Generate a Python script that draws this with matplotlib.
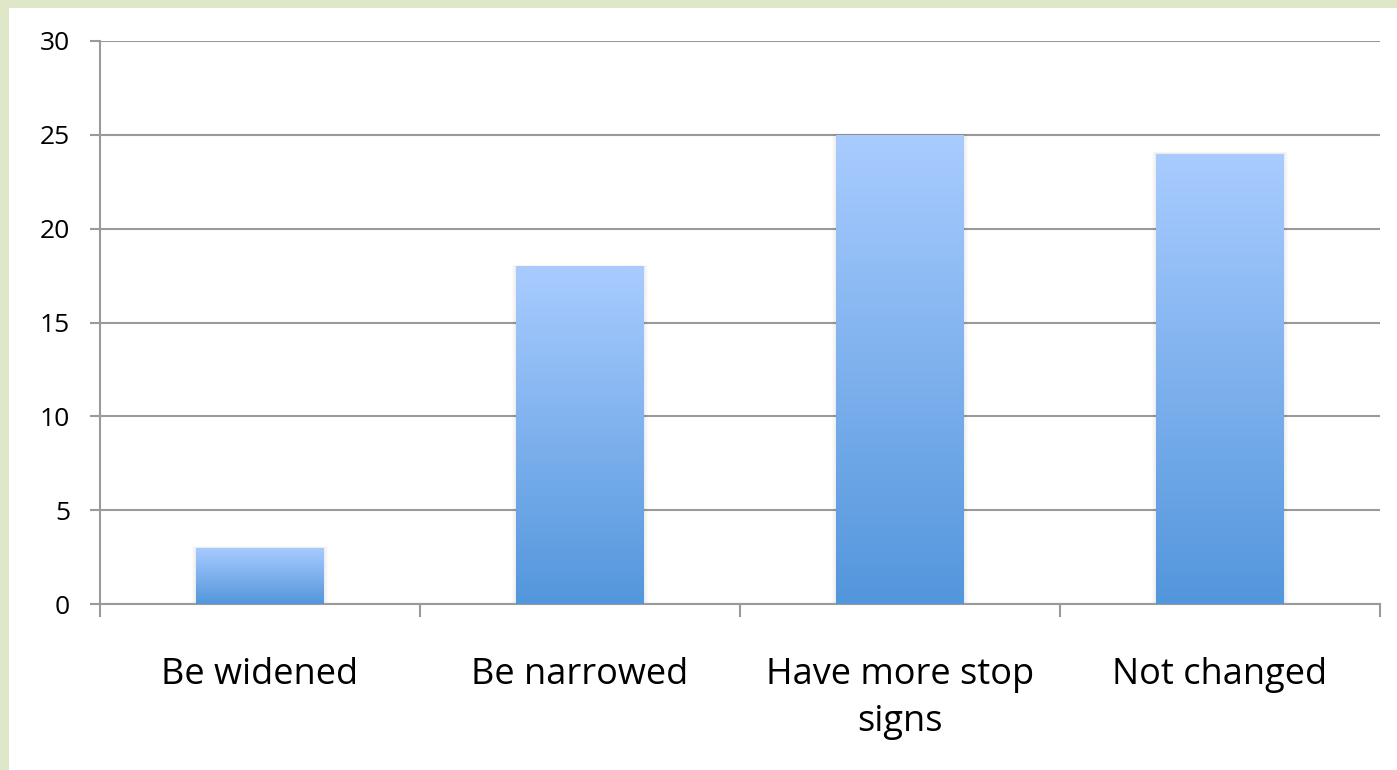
import matplotlib
matplotlib.use("Agg")
import matplotlib.pyplot as plt
import numpy as np
from matplotlib.colors import LinearSegmentedColormap

categories = ["Be widened", "Be narrowed", "Have more stop\nsigns", "Not changed"]
values = [3, 18, 25, 24]
y_ticks = [0, 5, 10, 15, 20, 25, 30]

W, H = 1397, 770
fig = plt.figure(figsize=(W / 100, H / 100), dpi=100)
fig.patch.set_facecolor("#dfe7c9")
# white inner panel
fig.patches.append(plt.Rectangle((9 / W, 0), 1, 1 - 8 / H, transform=fig.transFigure,
                                 facecolor="white", edgecolor="none", zorder=-5))

ax = fig.add_axes([100 / W, 1 - 604 / H, 1280 / W, (604 - 41) / H])
ax.set_zorder(2)
ax.set_facecolor("none")
x = np.arange(len(categories))
bars = ax.bar(x, values, width=0.4, facecolor="none", edgecolor="none", zorder=3)

cmap = LinearSegmentedColormap.from_list("g", ["#5396dc", "#a9ccff"])
grad = np.linspace(0, 1, 256).reshape(-1, 1)
for b in bars:
    x0, y0 = b.get_x(), b.get_y()
    w, h = b.get_width(), b.get_height()
    # soft shadow
    for i, a in enumerate([0.035, 0.025, 0.015]):
        d = 0.004 * (i + 1)
        ax.add_patch(plt.Rectangle((x0 - d, y0), w + 2 * d, h + 0.03 * (i + 1),
                                   facecolor="black", alpha=a, edgecolor="none", zorder=2))
    im = ax.imshow(grad, extent=(x0, x0 + w, y0, y0 + h), origin="lower", cmap=cmap,
                   aspect="auto", zorder=3, interpolation="bilinear")
    im.set_clip_path(b)

ax.set_xlim(-0.5, len(categories) - 0.5)
ax.set_ylim(0, 30)
ax.set_yticks(y_ticks)
ax.set_yticklabels([str(t) for t in y_ticks])
ax.yaxis.grid(True, color="#9a9a9a", linewidth=1.5, zorder=1)
ax.set_axisbelow(True)
ax.set_xticks(np.arange(len(categories) + 1) - 0.5, minor=False)
ax.set_xticklabels([""] * (len(categories) + 1))
ax.set_xticks(x, minor=True)
ax.set_xticklabels(categories, minor=True, fontsize=26, family="Open Sans", linespacing=1.4)
ax.tick_params(axis="x", which="minor", length=0, pad=38)
ax.tick_params(axis="x", which="major", length=9, width=1.5, color="#9a9a9a")
ax.tick_params(axis="y", length=7.5, width=1.5, color="#9a9a9a", pad=14, labelsize=19)
for lab in ax.get_yticklabels():
    lab.set_family("Open Sans")
for s in ["top", "right"]:
    ax.spines[s].set_visible(False)
for s in ["left", "bottom"]:
    ax.spines[s].set_color("#9a9a9a")
    ax.spines[s].set_linewidth(1.5)

fig.savefig("out.png", dpi=100, facecolor=fig.get_facecolor())
